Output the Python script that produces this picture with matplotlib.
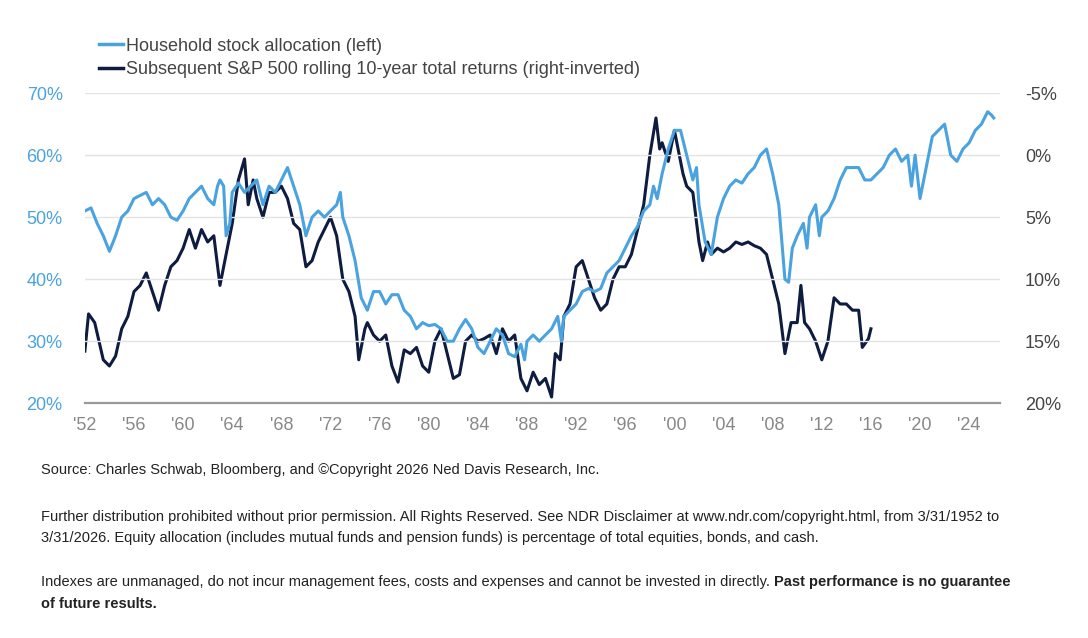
import matplotlib
matplotlib.use("Agg")
import matplotlib.pyplot as plt
from matplotlib.lines import Line2D

alloc_years = [1952.0,1952.5,1953,1953.5,1954,1954.5,1955,1955.5,1956,1956.5,1957,1957.5,1958,1958.5,1959,1959.5,1960,1960.5,1961,1961.5,1962,1962.5,1962.8,1963,1963.3,1963.5,1963.8,1964,1964.5,1965,1965.5,1966,1966.5,1967,1967.5,1968,1968.5,1969,1969.5,1970,1970.5,1971,1971.5,1972,1972.5,1972.8,1973,1973.5,1974,1974.5,1975,1975.5,1976,1976.5,1977,1977.5,1978,1978.5,1979,1979.5,1980,1980.5,1981,1981.5,1982,1982.5,1983,1983.5,1984,1984.5,1985,1985.5,1986,1986.5,1987,1987.5,1987.8,1988,1988.5,1989,1989.5,1990,1990.5,1990.8,1991,1991.5,1992,1992.5,1993,1993.5,1994,1994.5,1995,1995.5,1996,1996.5,1997,1997.5,1998,1998.3,1998.6,1999,1999.5,2000,2000.5,2001,2001.5,2001.8,2002,2002.5,2003,2003.5,2004,2004.5,2005,2005.5,2006,2006.5,2007,2007.5,2008,2008.5,2009,2009.3,2009.6,2010,2010.5,2010.8,2011,2011.5,2011.8,2012,2012.5,2013,2013.5,2014,2014.5,2015,2015.5,2016,2016.5,2017,2017.5,2018,2018.5,2019,2019.3,2019.6,2020,2020.5,2021,2021.5,2022,2022.5,2023,2023.5,2024,2024.5,2025,2025.5,2025.8,2026]
alloc_vals = [51,51.5,49,47,44.5,47,50,51,53,53.5,54,52,53,52,50,49.5,51,53,54,55,53,52,55,56,55,47,49,54,55.5,54,55,56,52,55,54,56,58,55,52,47,50,51,50,51,52,54,50,47,43,37,35,38,38,36,37.5,37.5,35,34,32,33,32.5,32.7,32,30,30,32,33.5,32,29,28,30,32,31,28,27.5,29.5,27,30,31,30,31,32,34,30,34,35,36,38,38.5,38,38.5,41,42,43,45,47,48.5,51,52,55,53,57,61,64,64,60,56,58,52,46,44,50,53,55,56,55.5,57,58,60,61,57,52,40,39.5,45,47,49,45,50,52,47,50,51,53,56,58,58,58,56,56,57,58,60,61,59,60,55,60,53,58,63,64,65,60,59,61,62,64,65,67,66.5,66]

ret_years = [1952,1952.3,1952.8,1953.5,1954,1954.5,1955,1955.5,1956,1956.5,1957,1957.5,1958,1958.5,1959,1959.5,1960,1960.5,1961,1961.5,1962,1962.5,1963,1963.5,1964,1964.5,1965,1965.3,1965.7,1966,1966.5,1967,1967.5,1968,1968.5,1969,1969.5,1970,1970.5,1971,1971.5,1972,1972.5,1973,1973.5,1974,1974.3,1974.8,1975,1975.5,1976,1976.5,1977,1977.5,1978,1978.5,1979,1979.5,1980,1980.5,1981,1981.5,1982,1982.5,1983,1983.5,1984,1984.5,1985,1985.5,1986,1986.5,1987,1987.5,1988,1988.5,1989,1989.5,1990,1990.3,1990.7,1991,1991.5,1992,1992.5,1993,1993.5,1994,1994.5,1995,1995.5,1996,1996.5,1997,1997.5,1998,1998.5,1998.8,1999,1999.5,2000,2000.3,2000.7,2001,2001.5,2002,2002.3,2002.7,2003,2003.5,2004,2004.5,2005,2005.5,2006,2006.5,2007,2007.5,2008,2008.5,2009,2009.5,2010,2010.3,2010.6,2011,2011.5,2012,2012.5,2013,2013.5,2014,2014.5,2015,2015.3,2015.8,2016]
ret_vals = [15.8,12.8,13.5,16.5,17.0,16.2,14,13,11,10.5,9.5,11,12.5,10.5,9,8.5,7.5,6,7.5,6,7,6.5,10.5,8,5.5,2,0.3,4,2,3.5,5,3,3,2.5,3.5,5.5,6,9,8.5,7,6,5,6.5,10,11,13,16.5,14,13.5,14.5,15,14.5,17,18.3,15.7,16,15.5,17,17.5,15,14,16,18,17.7,15,14.5,15,14.8,14.5,16,14,15,14.5,18,19,17.5,18.5,18,19.5,16,16.5,13,12,9,8.5,10,11.5,12.5,12,10,9,9,8,6,4,0,-3,-0.5,-1,0.5,-2,-0.5,1.5,2.5,3,7,8.5,7,8,7.5,7.8,7.5,7,7.2,7,7.3,7.5,8,10,12,16,13.5,13.5,10.5,13.5,14,15,16.5,15,11.5,12,12,12.5,12.5,15.5,14.8,14]

xtick_years = list(range(1952, 2025, 4))
xtick_labels = ["'%02d" % (y % 100) for y in xtick_years]
left_ticks = [20, 30, 40, 50, 60, 70]
right_ticks = [-5, 0, 5, 10, 15, 20]

LIGHT = "#4aa3df"
NAVY = "#0e1c40"

plt.rcParams['font.family'] = ['Liberation Sans', 'DejaVu Sans']
fig = plt.figure(figsize=(10.88, 6.38), dpi=100)
ax = fig.add_axes([0.078, 0.368, 0.841, 0.486])
ax2 = ax.twinx()
ax.set_zorder(ax2.get_zorder() + 1)
ax.patch.set_visible(False)

ax.plot(alloc_years, alloc_vals, color=LIGHT, lw=2.2)
ax2.plot(ret_years, ret_vals, color=NAVY, lw=2.2)

ax.set_xlim(1952, 2026.5)
ax.set_ylim(20, 70)
ax2.set_ylim(20, -5)
ax.set_yticks(left_ticks)
ax.set_yticklabels([f"{v}%" for v in left_ticks])
ax2.set_yticks(right_ticks)
ax2.set_yticklabels([f"{v}%" for v in right_ticks])
ax.set_xticks(xtick_years)
ax.set_xticklabels(xtick_labels)
ax.grid(axis='y', color='#e3e3e3', lw=1)
for a in (ax, ax2):
    for s in a.spines.values():
        s.set_visible(False)
ax.spines['bottom'].set_visible(True)
ax.spines['bottom'].set_color('#999999')
ax.spines['bottom'].set_linewidth(1.6)
ax.tick_params(axis='y', length=0, colors=LIGHT, labelsize=13, pad=16)
ax2.tick_params(axis='y', length=0, colors='#444444', labelsize=13, pad=18)
ax.tick_params(axis='x', length=0, colors='#888888', labelsize=13, pad=10)

handles = [Line2D([], [], color=LIGHT, lw=2.5), Line2D([], [], color=NAVY, lw=2.5)]
fig.legend(handles, ["Household stock allocation (left)",
                     "Subsequent S&P 500 rolling 10-year total returns (right-inverted)"],
           loc='upper left', bbox_to_anchor=(0.083, 0.955), frameon=False,
           fontsize=13, handlelength=1.3, handletextpad=0.15, labelspacing=0.35,
           labelcolor='#444444', borderpad=0)

fs = 10.5
c = '#222222'
fig.text(0.038, 1-470/638, "Source: Charles Schwab, Bloomberg, and ©Copyright 2026 Ned Davis Research, Inc.", fontsize=fs, color=c, va='center')
fig.text(0.038, 1-517/638, "Further distribution prohibited without prior permission. All Rights Reserved. See NDR Disclaimer at www.ndr.com/copyright.html, from 3/31/1952 to", fontsize=fs, color=c, va='center')
fig.text(0.038, 1-538/638, "3/31/2026. Equity allocation (includes mutual funds and pension funds) is percentage of total equities, bonds, and cash.", fontsize=fs, color=c, va='center')
t = fig.text(0.038, 1-582/638, "Indexes are unmanaged, do not incur management fees, costs and expenses and cannot be invested in directly. ", fontsize=fs, color=c, va='center')
fig.canvas.draw()
bb = t.get_window_extent()
fig.text(bb.x1/fig.bbox.width, 1-582/638, "Past performance is no guarantee", fontsize=fs, color=c, va='center', weight='bold')
fig.text(0.038, 1-604/638, "of future results.", fontsize=fs, color=c, va='center', weight='bold')

fig.savefig("out.png", dpi=100)
